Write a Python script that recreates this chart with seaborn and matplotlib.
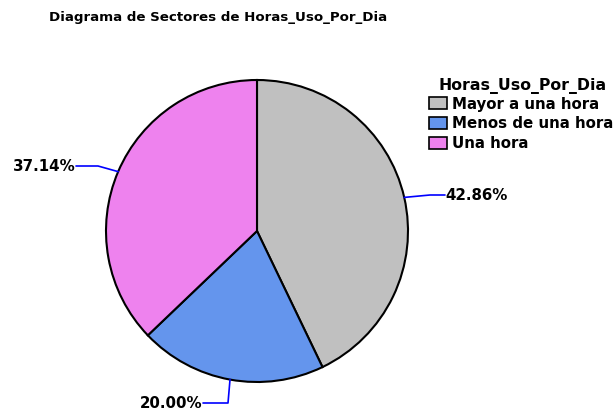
import numpy as np
import matplotlib
matplotlib.use("Agg")
import matplotlib.pyplot as plt
from matplotlib.patches import Rectangle
import seaborn as sns

categories = ["Mayor a una hora", "Menos de una hora", "Una hora"]
percentages = [42.86, 20.00, 37.14]
colors = ["#C0C0C0", "#6495ED", "#EE82EE"]
title = "Diagrama de Sectores de Horas_Uso_Por_Dia"
legend_title = "Horas_Uso_Por_Dia"

sns.set_theme(style="white")
plt.rcParams["font.family"] = ["DejaVu Sans"]
plt.rcParams["text.color"] = "black"

W, H = 615, 414
fig = plt.figure(figsize=(W / 100, H / 100), dpi=100)
fig.patch.set_facecolor("white")

cx, cy, r = 257, 232, 151
ax = fig.add_axes([(cx - r) / W, (H - cy - r) / H, 2 * r / W, 2 * r / H])
wedges, _ = ax.pie(percentages, colors=colors, startangle=90, counterclock=False,
                   radius=1.0, wedgeprops=dict(edgecolor="black", linewidth=1.5))
for w in wedges:
    w.set_clip_on(False)
ax.set_xlim(-1, 1)
ax.set_ylim(-1, 1)
ax.set_aspect("equal")
ax.axis("off")

def px(x, y):
    return ((x - cx) / r, (cy - y) / r)

layouts = {
    0: dict(elbow=(430, 196), end=(445, 196), ha="left"),
    1: dict(elbow=(228, 404), end=(203, 404), ha="right"),
    2: dict(elbow=(98, 167), end=(76, 167), ha="right"),
}
for i, w in enumerate(wedges):
    ang = np.deg2rad((w.theta1 + w.theta2) / 2)
    ex, ey = np.cos(ang), np.sin(ang)
    lay = layouts[i]
    bx, by = px(*lay["elbow"])
    tx, ty = px(*lay["end"])
    ax.plot([ex, bx, tx], [ey, by, ty], color="#0000FF", lw=1.2, clip_on=False)
    off = 0.005 if lay["ha"] == "left" else -0.005
    ax.text(tx + off, ty, f"{percentages[i]:.2f}%", ha=lay["ha"], va="center",
            fontsize=10.8, fontweight="bold", color="black", clip_on=False)

fig.text(49 / W, 1 - 17 / H, title, ha="left", va="center", fontsize=9.6,
         fontweight="bold", color="black")

fig.text(438 / W, 1 - 86 / H, legend_title, ha="left", va="center", fontsize=11.3,
         fontweight="bold", color="black")
for i, (cat, col) in enumerate(zip(categories, colors)):
    yc = 104 + i * 20
    fig.patches.append(Rectangle((429 / W, 1 - (yc + 6) / H), 18 / W, 12 / H,
                                 transform=fig.transFigure, facecolor=col,
                                 edgecolor="black", linewidth=1.2))
    fig.text(452 / W, 1 - yc / H, cat, ha="left", va="center", fontsize=10.8,
             fontweight="bold", color="black")

fig.savefig("out.png", dpi=100, facecolor="white")
